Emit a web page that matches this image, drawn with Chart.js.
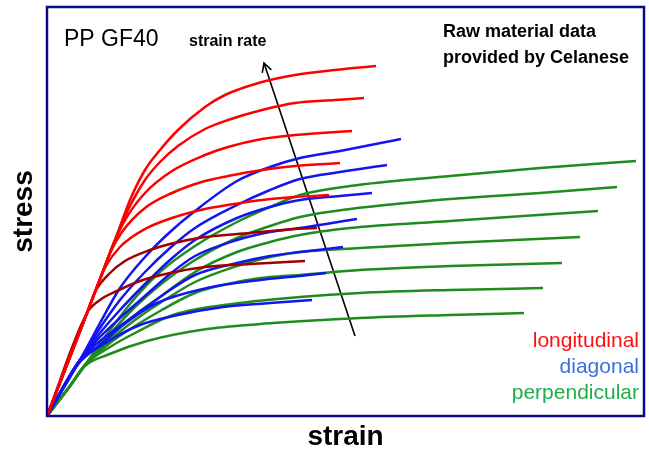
<!DOCTYPE html>
<html>
<head>
<meta charset="utf-8">
<script src="https://cdn.jsdelivr.net/npm/chart.js@4"></script>
<style>
  html, body { margin: 0; padding: 0; background: #ffffff; }
  #c { display: block; }
</style>
</head>
<body>
<canvas id="c" width="649" height="453"></canvas>
<script>
// ---- values (arbitrary strain / stress units) ----
// longitudinal (red; the two lowest strain rates are dark red)
const long1 = [[0,0],[40,103],[58,150],[71,184],[83,216],[98,246],[113,266],[131,286],[158,309],[178,321],[215,334],[248,341],[288,346],[329,350]];
const long2 = [[0,0],[40,103],[58,150],[68,176],[81,206],[98,236],[113,254],[131,270],[158,287],[181,296],[215,306],[248,313],[288,316],[317,318]];
const long3 = [[0,0],[40,103],[58,150],[66,171],[78,196],[98,223],[125,245],[158,261],[181,269],[215,277],[248,281],[305,285]];
const long4 = [[0,0],[40,103],[56,145],[63,163],[75,184],[98,208],[125,223],[158,235],[181,240],[215,246],[248,250],[293,253]];
const long5 = [[0,0],[40,103],[51,132],[59,150],[73,169],[98,187],[125,198],[158,207],[181,211],[215,216],[248,219],[282,221]];
const long6 = [[0,0],[40,103],[48,124],[63,143],[78,155],[103,166],[123,172],[158,179],[203,183],[248,187],[270,188]];
const long7 = [[0,0],[40,103],[53,116],[70,125],[93,135],[123,143],[158,149],[203,152],[258,155]];

// diagonal (blue)
const diag1 = [[0,0],[33,56],[53,93],[73,128],[98,159],[123,184],[148,205],[190,235],[223,249],[253,258],[293,265],[354,277]];
const diag2 = [[0,0],[33,56],[53,88],[73,116],[98,144],[123,168],[148,188],[190,211],[223,226],[253,237],[293,244],[340,251]];
const diag3 = [[0,0],[33,56],[53,83],[73,106],[98,132],[123,156],[148,176],[190,198],[223,209],[253,216],[293,220],[325,223]];
const diag4 = [[0,0],[33,56],[53,79],[73,98],[98,120],[123,142],[148,160],[190,176],[223,184],[253,188],[310,197]];
const diag5 = [[0,0],[33,56],[53,75],[73,90],[98,108],[123,126],[148,141],[190,153],[223,160],[253,164],[296,169]];
const diag6 = [[0,0],[33,56],[53,71],[76,91],[110,113],[160,128],[213,136],[253,140],[279,143]];
const diag7 = [[0,0],[33,54],[60,74],[93,91],[126,100],[176,109],[223,113],[265,116]];

// perpendicular (green)
const perp1 = [[0,0],[23,30],[38,51],[63,86],[88,118],[113,144],[148,170],[190,194],[223,209],[253,221],[303,230],[403,240],[493,248],[589,255]];
const perp2 = [[0,0],[23,30],[38,51],[63,82],[88,109],[113,131],[148,156],[190,178],[223,190],[253,199],[303,207],[403,217],[493,223],[570,229]];
const perp3 = [[0,0],[23,30],[38,51],[63,79],[88,101],[113,119],[148,144],[190,164],[223,174],[253,181],[303,188],[403,195],[551,205]];
const perp4 = [[0,0],[23,30],[38,51],[63,76],[88,96],[113,113],[148,134],[190,150],[223,159],[253,164],[313,168],[403,173],[533,179]];
const perp5 = [[0,0],[23,30],[38,51],[63,73],[88,90],[113,105],[148,123],[190,134],[223,139],[253,141],[313,146],[403,150],[515,153]];
const perp6 = [[0,0],[23,30],[38,51],[63,69],[88,83],[126,101],[193,113],[253,119],[313,123],[403,126],[496,128]];
const perp7 = [[0,0],[23,30],[38,50],[60,61],[100,75],[160,87],[226,93],[313,98],[403,101],[477,103]];

// "strain rate" arrow (tail, head) in the same units
const strainRateArrow = [[308,80],[217,353]];

const strainMax = 597;
const stressMax = 409;

const legendLabels = ['longitudinal', 'diagonal', 'perpendicular'];
const noteLines = ['Raw material data', 'provided by Celanese'];
const materialLabel = 'PP GF40';
const arrowLabel = 'strain rate';

// ---- styling ----
const RED = '#ff0000', DARKRED = '#a00000', BLUE = '#1414f0', GREEN = '#1e8c1e';
const FONT = '"Liberation Sans", Arial, Helvetica, sans-serif';

const toPts = arr => arr.map(p => ({ x: p[0], y: p[1] }));
function curve(data, color) {
  return {
    data: toPts(data),
    borderColor: color,
    borderWidth: 2.5,
    pointRadius: 0,
    fill: false,
    cubicInterpolationMode: 'monotone'
  };
}

const datasets = [
  curve(long1, RED), curve(long2, RED), curve(long3, RED), curve(long4, RED), curve(long5, RED),
  curve(long6, DARKRED), curve(long7, DARKRED),
  curve(diag1, BLUE), curve(diag2, BLUE), curve(diag3, BLUE), curve(diag4, BLUE),
  curve(diag5, BLUE), curve(diag6, BLUE), curve(diag7, BLUE),
  curve(perp1, GREEN), curve(perp2, GREEN), curve(perp3, GREEN), curve(perp4, GREEN),
  curve(perp5, GREEN), curve(perp6, GREEN), curve(perp7, GREEN),
  { data: toPts(strainRateArrow), borderColor: '#000000', borderWidth: 1.6, pointRadius: 0, tension: 0, isArrow: true }
];

const decorPlugin = {
  id: 'decor',
  afterDatasetsDraw(chart) {
    const ctx = chart.ctx;
    const ca = chart.chartArea;
    // arrow head
    const idx = chart.data.datasets.findIndex(d => d.isArrow);
    const pts = chart.getDatasetMeta(idx).data;
    const tail = pts[0], head = pts[1];
    const ang = Math.atan2(head.y - tail.y, head.x - tail.x);
    const L = 10, spread = 0.5;
    ctx.save();
    ctx.strokeStyle = '#000';
    ctx.lineWidth = 1.6;
    ctx.beginPath();
    ctx.moveTo(head.x - L * Math.cos(ang - spread), head.y - L * Math.sin(ang - spread));
    ctx.lineTo(head.x, head.y);
    ctx.lineTo(head.x - L * Math.cos(ang + spread), head.y - L * Math.sin(ang + spread));
    ctx.stroke();

    // frame
    ctx.strokeStyle = '#0c0c88';
    ctx.lineWidth = 2.5;
    ctx.strokeRect(ca.left, ca.top, ca.right - ca.left, ca.bottom - ca.top);

    // texts
    ctx.textBaseline = 'alphabetic';
    ctx.fillStyle = '#000';
    ctx.textAlign = 'left';
    ctx.font = '23px ' + FONT;
    ctx.fillText(materialLabel, 64, 46);
    ctx.font = 'bold 16px ' + FONT;
    ctx.fillText(arrowLabel, 189, 46);
    ctx.font = 'bold 18px ' + FONT;
    ctx.fillText(noteLines[0], 443, 37);
    ctx.fillText(noteLines[1], 443, 63);

    ctx.textAlign = 'right';
    ctx.font = '21px ' + FONT;
    const cols = ['#ff1010', '#3a6fdc', '#1fae48'];
    const base = [347, 373, 399];
    legendLabels.forEach((t, i) => {
      ctx.fillStyle = cols[i];
      ctx.fillText(t, 639, base[i]);
    });
    ctx.restore();
  }
};

new Chart(document.getElementById('c'), {
  type: 'line',
  data: { datasets },
  options: {
    responsive: false,
    animation: false,
    devicePixelRatio: 1,
    layout: { padding: { top: 7, right: 5, left: 0, bottom: 0 } },
    plugins: { legend: { display: false }, tooltip: { enabled: false } },
    scales: {
      x: {
        type: 'linear', min: 0, max: strainMax,
        grid: { display: false, drawTicks: false },
        border: { display: false },
        ticks: { display: false },
        title: { display: true, text: 'strain', color: '#000',
                 font: { family: FONT, size: 28, weight: 'bold', lineHeight: 1 },
                 padding: { top: 7, bottom: 2 } }
      },
      y: {
        type: 'linear', min: 0, max: stressMax,
        grid: { display: false, drawTicks: false },
        border: { display: false },
        ticks: { display: false },
        title: { display: true, text: 'stress', color: '#000',
                 font: { family: FONT, size: 28, weight: 'bold', lineHeight: 1 },
                 padding: { top: 10, bottom: 9 } }
      }
    }
  },
  plugins: [decorPlugin]
});
</script>
</body>
</html>
